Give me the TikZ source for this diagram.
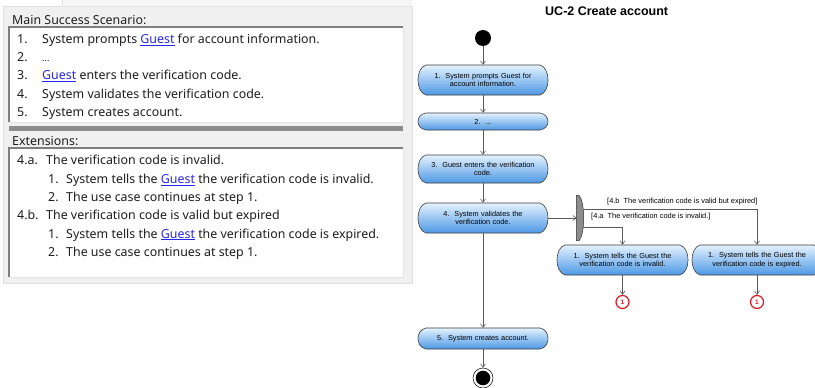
\documentclass[tikz,border=0pt]{standalone}
\usepackage{fontspec}
\setmainfont{Liberation Sans}
\newfontfamily\uifont{Noto Sans}
\usetikzlibrary{arrows.meta,calc}

\definecolor{panelgrey}{HTML}{F0F0F0}
\definecolor{panelrim}{HTML}{E2E2E2}
\definecolor{boxdark}{HTML}{7E7E7E}
\definecolor{boxlight}{HTML}{E4E4E4}
\definecolor{sepbar}{HTML}{8C8C8C}
\definecolor{txt}{HTML}{1E1E1E}
\definecolor{link}{HTML}{2828E6}
\definecolor{acttop}{HTML}{E4F2FE}
\definecolor{actmid}{HTML}{A3CEF5}
\definecolor{actbot}{HTML}{4D98E5}
\definecolor{actedge}{HTML}{3C3C3C}
\definecolor{flowgrey}{HTML}{5A5A5A}
\definecolor{connred}{HTML}{E5141C}

\newcommand\guestlink{\textcolor{link}{\underline{Guest}}}

% action: name, x1, y1, x2, y2, text
\newcommand\actionbox[6]{%
  \pgfmathsetmacro\axa{#2+8}\pgfmathsetmacro\axb{#4-8}%
  \pgfmathsetmacro\axr{#4+2.7}\pgfmathsetmacro\axl{#2-2.7}%
  \pgfmathsetmacro\ayt{#3+0.1*(#5-#3)}\pgfmathsetmacro\ayb{#5-0.1*(#5-#3)}%
  \pgfmathsetmacro\acx{(#2+#4)/2}\pgfmathsetmacro\acy{(#3+#5)/2}%
  \pgfmathsetmacro\aw{#4-#2}\pgfmathsetmacro\ah{#5-#3}\pgfmathsetmacro\atw{#4-#2-12}%
  \shade[top color=acttop, middle color=actmid, bottom color=actbot,
         draw=actedge, line width=0.6pt]
    (\axa,#3) -- (\axb,#3)
    .. controls (\axr,\ayt) and (\axr,\ayb) .. (\axb,#5)
    -- (\axa,#5)
    .. controls (\axl,\ayb) and (\axl,\ayt) .. cycle;
  \node[acttext, minimum width=\aw pt, minimum height=\ah pt,
        text width=\atw pt] (#1) at (\acx,\acy) {#6};
}

\tikzset{
  lt/.style={anchor=base west, inner sep=0pt, text=txt,
             font=\uifont\fontsize{12.4}{14}\selectfont},
  acttext/.style={rectangle, inner sep=0pt, align=center, text=black,
                  font=\fontsize{7.3}{8.3}\selectfont},
  guard/.style={anchor=base west, inner sep=0pt, font=\fontsize{7.4}{8}\selectfont},
  flow/.style={draw=flowgrey, line width=0.6pt,
               -{Straight Barb[length=3.5pt,width=5pt]}},
  connector/.style={circle, draw=connred, line width=1.2pt, fill=white,
                    minimum size=13pt, inner sep=0pt, text=connred,
                    font=\bfseries\fontsize{6.5}{7}\selectfont},
}

\begin{document}
\begin{tikzpicture}[x=1pt,y=-1pt]
\useasboundingbox (0,0) rectangle (815,388);
\fill[white] (0,0) rectangle (815,388);

% ---------- use case text panel ----------
\fill[panelgrey!60!white] (62,0) rectangle (412,12);
\draw[panelrim] (62,0) -- (62,12);
\filldraw[fill=panelgrey, draw=panelrim] (3,6) rectangle (412,283);

% main success scenario block
\node[lt] (mhead) at (12,24.5) {Main Success Scenario:};
\fill[white] (9,27) rectangle (403,122);
\draw[boxlight, line width=1pt] (9,122) -- (403,122) -- (403,27);
\draw[boxdark, line width=1.5pt] (9,122) -- (9,27) -- (403,27);
\node[lt] (m1n) at (17,43.5) {1.};
\node[lt] (m1) at (42,43.5) {System prompts \guestlink{} for account information.};
\node[lt] (m2n) at (17,61.5) {2.};
\node[lt] (m2) at (42,61.5) {\fontsize{9}{10}\selectfont...};
\node[lt] (m3n) at (17,79.5) {3.};
\node[lt] (m3) at (42,79.5) {\guestlink{} enters the verification code.};
\node[lt] (m4n) at (17,98) {4.};
\node[lt] (m4) at (42,98) {System validates the verification code.};
\node[lt] (m5n) at (17,116.5) {5.};
\node[lt] (m5) at (42,116.5) {System creates account.};

% separator bar
\fill[sepbar] (9,126) rectangle (403,131);

% extensions block
\node[lt] (ehead) at (12,145.5) {Extensions:};
\fill[white] (9,148) rectangle (403,277);
\draw[boxlight, line width=1pt] (9,277) -- (403,277) -- (403,148);
\draw[boxdark, line width=1.5pt] (9,277) -- (9,148) -- (403,148);
\node[lt] (x1n) at (17,164.5) {4.a.};
\node[lt] (x1) at (46,164.5) {The verification code is invalid.};
\node[lt] (x11n) at (48,183.5) {1.};
\node[lt] (x11) at (66,183.5) {System tells the \guestlink{} the verification code is invalid.};
\node[lt] (x12n) at (48,201.5) {2.};
\node[lt] (x12) at (66,201.5) {The use case continues at step 1.};
\node[lt] (x2n) at (17,219.5) {4.b.};
\node[lt] (x2) at (46,219.5) {The verification code is valid but expired};
\node[lt] (x21n) at (48,238) {1.};
\node[lt] (x21) at (66,238) {System tells the \guestlink{} the verification code is expired.};
\node[lt] (x22n) at (48,256.5) {2.};
\node[lt] (x22) at (66,256.5) {The use case continues at step 1.};

% ---------- activity diagram ----------
\node[anchor=base west, inner sep=0pt, font=\bfseries\fontsize{12.5}{14}\selectfont]
  (title) at (545,15.5) {UC-2 Create account};

\node[circle, fill=black, minimum size=16pt, inner sep=0pt] (start) at (483,38) {};

\actionbox{a1}{418}{65}{548}{95}{1.\ \ System prompts Guest for\\account information.}
\actionbox{a2}{418}{113}{548}{130}{2.\ \ ...}
\actionbox{a3}{418}{155}{548}{183}{3.\ \ Guest enters the verification\\code.}
\actionbox{a4}{418}{203}{548}{233}{4.\ \ System validates the\\verification code.}
\actionbox{a5}{418}{328}{548}{349}{5.\ \ System creates account.}
\actionbox{e1}{557}{245}{688}{275}{1.\ \ System tells the Guest the\\verification code is invalid.}
\actionbox{e2}{692}{245}{822}{275}{1.\ \ System tells the Guest the\\verification code is expired.}

\node[circle, draw=black, line width=0.5pt, fill=white, minimum size=20pt, inner sep=0pt,
      path picture={\fill[black] (path picture bounding box.center) circle (7.3pt);}]
  (finish) at (483,378) {};

% decision fork bar: straight left edge, bowed right edge
\node[rectangle, minimum width=6pt, minimum height=45pt, inner sep=0pt] (fork) at (580,218) {};
\filldraw[fill=sepbar, draw=black!80, line width=0.5pt]
  ([xshift=-0.5pt]fork.north west) -- ([xshift=-0.5pt]fork.south west)
  -- ([xshift=-1pt]fork.south) .. controls ([xshift=2pt,yshift=6pt]fork.south east)
     and ([xshift=2pt,yshift=-6pt]fork.north east) .. ([xshift=-1pt]fork.north) -- cycle;

\node[connector] (c1) at (622.5,302) {1};
\node[connector] (c2) at (757,302) {1};

% guard labels
\node[guard] (g2) at (607,203.5) {[4.b\ \ The verification code is valid but expired]};
\node[guard] (g1) at (591,218.5) {[4.a\ \ The verification code is invalid.]};

% control flows
\draw[flow] (start) -- (a1);
\draw[flow] (a1) -- (a2);
\draw[flow] (a2) -- (a3);
\draw[flow] (a3) -- (a4);
\draw[flow] (a4) -- (a5);
\draw[flow] (a5) -- (finish);
\draw[flow] (a4.east) -- (fork.west);
\draw[flow] ([yshift=9pt]fork.east) -| (e2.north);
\draw[flow] ([yshift=-9pt]fork.east) -| (e1.north);
\draw[flow] (e1) -- (c1);
\draw[flow] (e2) -- (c2);
\end{tikzpicture}
\end{document}
